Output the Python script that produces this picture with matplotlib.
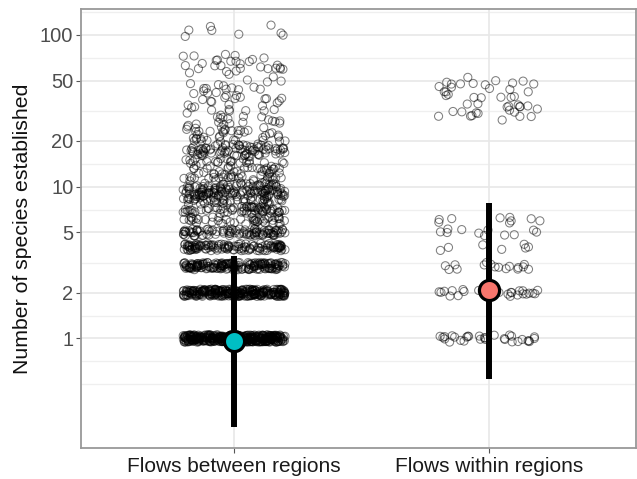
"""Jittered counts of species established, between vs within regions."""

import matplotlib

matplotlib.use("Agg")
import matplotlib.pyplot as plt
import numpy as np
from matplotlib.ticker import FixedLocator, NullFormatter

plt.rcParams["font.family"] = ["Liberation Sans", "DejaVu Sans"]

CATEGORIES = ["Flows between regions", "Flows within regions"]
MEAN_COLORS = ["#00BFC4", "#F8766D"]

# species established per flow, as (value, number of flows) pairs
BETWEEN_VALUES = [1, 2, 3, 4, 5, 6, 7, 8, 9, 10, 11, 12, 13, 14, 15, 16, 17, 18, 19, 20,
                  21, 22, 23, 24, 25, 26, 27, 28, 30, 32, 34, 36, 38, 40, 42, 44, 46, 48, 50,
                  58, 60, 62, 64, 66, 70, 72, 75, 100, 103, 105, 108, 110]
BETWEEN_COUNTS = [420, 290, 180, 125, 95, 45, 65, 45, 80, 55, 22, 20, 18, 16, 14, 16, 30, 30, 8, 7,
                  8, 7, 7, 6, 5, 5, 4, 5, 6, 5, 4, 5, 4, 4, 4, 4, 5, 3, 2,
                  5, 5, 5, 4, 3, 3, 2, 2, 1, 2, 2, 2, 1]

WITHIN_VALUES = [1, 2, 3, 4, 5, 6, 28, 29, 30, 31, 32, 33, 34, 35, 36, 37, 38, 39, 40,
                 41, 42, 44, 45, 46, 47, 48, 49, 50]
WITHIN_COUNTS = [30, 26, 16, 7, 11, 9, 2, 2, 3, 3, 4, 2, 1, 2, 1, 2, 2, 1, 3,
                 1, 1, 1, 2, 3, 3, 3, 2, 1]

# geometric mean and spread shown by the big dot and bar
MEANS = [0.96, 2.1]
LOWER = [0.26, 0.545]
UPPER = [3.52, 7.85]

Y_BREAKS = [1, 2, 5, 10, 20, 50, 100]
Y_MINOR = [0.5, 0.7071, 1.4142, 3.1623, 7.0711, 14.142, 31.623, 70.711, 141.42]

JITTER_WIDTH = 0.2
JITTER_HEIGHT = 0.024  # log10 units


def spread(idx: np.ndarray, salt: float) -> np.ndarray:
    # cheap hash in [0, 1) so the jitter is the same on every run
    return (np.sin(idx * 12.9898 + salt * 78.233) * 43758.5453) % 1.0


def jittered(values: list[int], counts: list[int], center: float) -> tuple[np.ndarray, np.ndarray]:
    y = np.repeat(np.asarray(values, dtype=float), counts)
    idx = np.arange(len(y), dtype=float) + center * 1000
    x = center + (2 * spread(idx, 1.0) - 1) * JITTER_WIDTH
    y = 10 ** (np.log10(y) + (2 * spread(idx, 2.0) - 1) * JITTER_HEIGHT)
    return x, y


def main() -> None:
    fig = plt.figure(figsize=(6.37, 4.79), dpi=100)
    ax = fig.add_axes([81 / 637, 1 - 448 / 479, 555 / 637, 439 / 479])

    ax.set_yscale("log")
    ax.set_ylim(0.19, 148)
    ax.set_xlim(0.4, 2.576)

    for y in Y_MINOR:
        ax.axhline(y, color="#EFEFEF", lw=0.9, zorder=0)
    for y in Y_BREAKS:
        ax.axhline(y, color="#E8E8E8", lw=1.2, zorder=0)
    for x in (1, 2):
        ax.axvline(x, color="#E8E8E8", lw=1.2, zorder=0)

    groups = [(BETWEEN_VALUES, BETWEEN_COUNTS), (WITHIN_VALUES, WITHIN_COUNTS)]
    for pos, (values, counts) in enumerate(groups, start=1):
        x, y = jittered(values, counts, pos)
        ax.scatter(x, y, s=34, facecolors="none", edgecolors=(0, 0, 0, 0.5), linewidths=0.75, zorder=2)

    for pos, (mean, lo, hi, color) in enumerate(zip(MEANS, LOWER, UPPER, MEAN_COLORS, strict=True), start=1):
        ax.plot([pos, pos], [lo, hi], color="black", lw=4.3, solid_capstyle="butt", zorder=3)
        ax.plot(pos, mean, "o", ms=14.5, mfc=color, mec="black", mew=2.3, zorder=4)

    ax.yaxis.set_major_locator(FixedLocator(Y_BREAKS))
    ax.yaxis.set_minor_locator(FixedLocator(Y_MINOR))
    ax.yaxis.set_minor_formatter(NullFormatter())
    ax.set_yticklabels([str(b) for b in Y_BREAKS])
    ax.set_xticks([1, 2])
    ax.set_xticklabels(CATEGORIES)

    ax.tick_params(axis="y", which="major", length=3.5, width=0.8, color="#555555",
                   labelsize=14.5, labelcolor="#4D4D4D", pad=2)
    ax.tick_params(axis="y", which="minor", length=0)
    ax.tick_params(axis="x", length=3.5, width=0.8, color="#555555",
                   labelsize=15, labelcolor="#1A1A1A", pad=3)

    for spine in ax.spines.values():
        spine.set_color("#999999")
        spine.set_linewidth(1.3)

    ax.set_ylabel("Number of species established", fontsize=15.3, color="#111111")
    ax.yaxis.set_label_coords(-0.088, 0.5)

    fig.savefig("out.png", dpi=100)


if __name__ == "__main__":
    main()
